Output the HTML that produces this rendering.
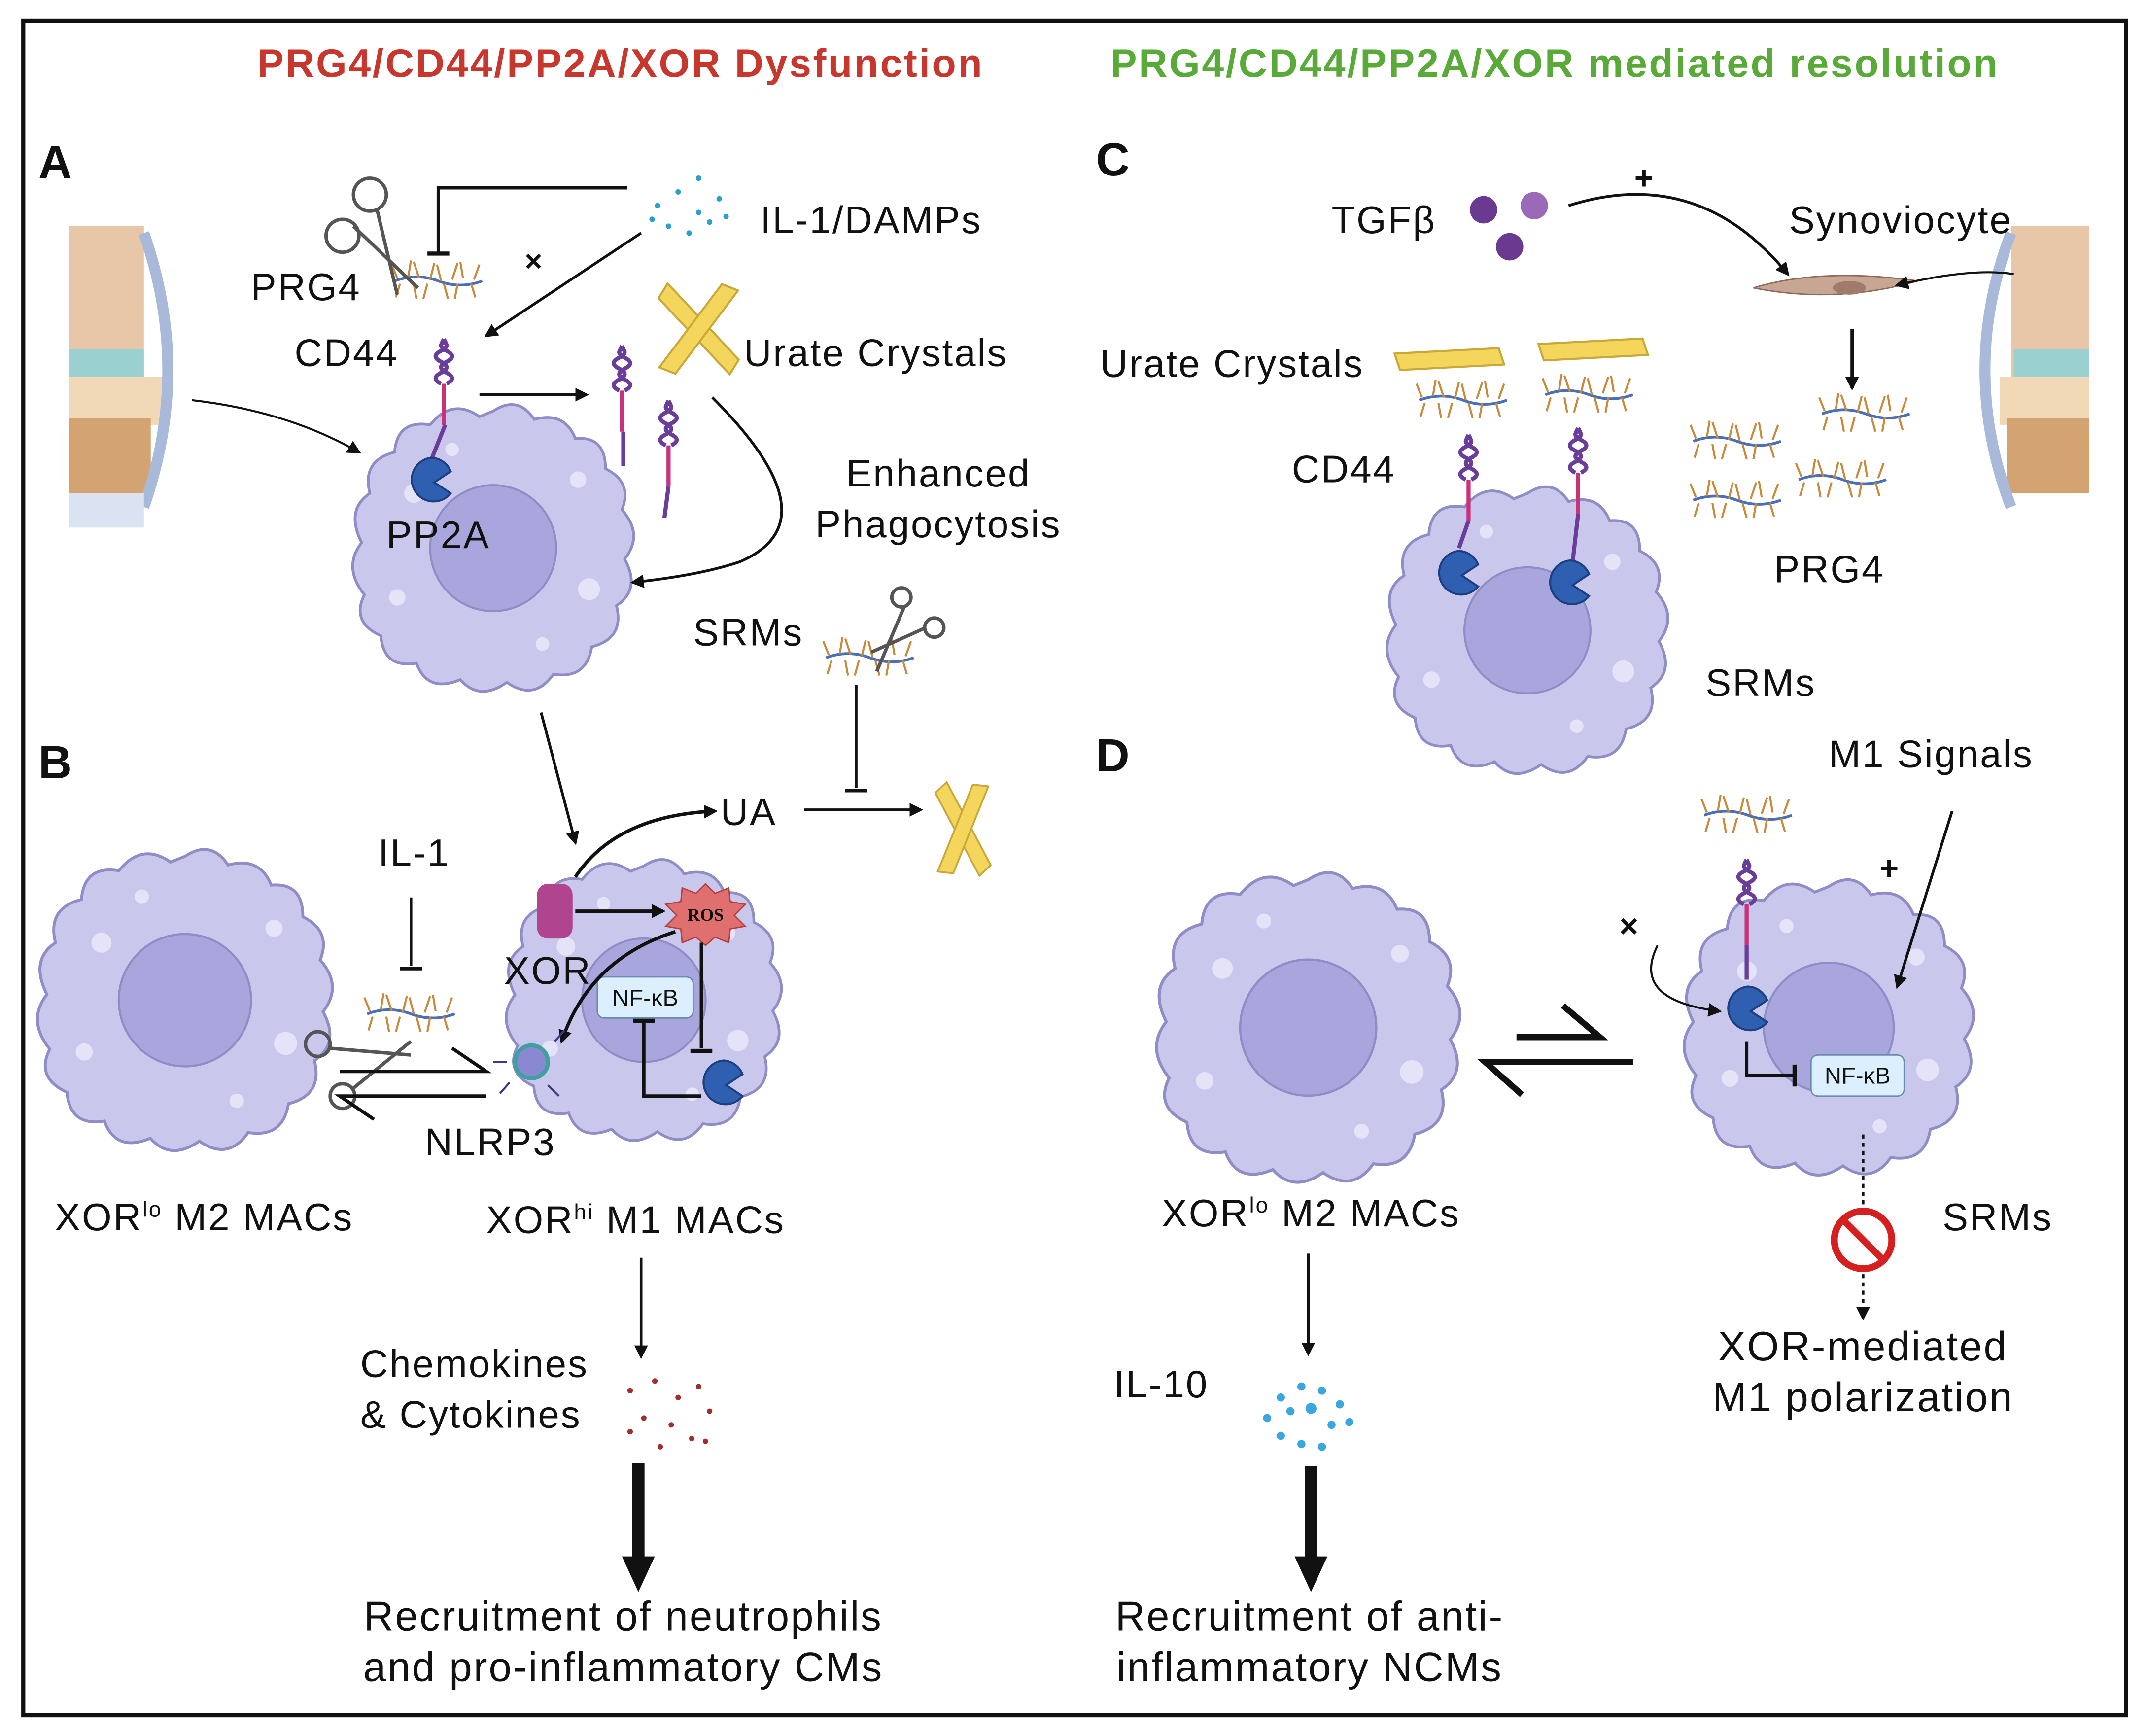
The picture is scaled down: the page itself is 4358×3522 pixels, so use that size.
<!DOCTYPE html>
<html><head><meta charset="utf-8"><style>
html,body{margin:0;padding:0;background:#fff;}
svg{display:block;}
text{font-family:"Liberation Sans",sans-serif;fill:#111;letter-spacing:1.1px;}
</style></head><body>
<svg width="4358" height="3522" viewBox="0 0 1568 1267" xmlns="http://www.w3.org/2000/svg">
<defs>
<marker id="ah" markerWidth="10" markerHeight="10" refX="8" refY="5" orient="auto" markerUnits="userSpaceOnUse"><path d="M0,0 L10,5 L0,10 z" fill="#111"/></marker>
<g id="cell">
<path d="M0,-100 Q18,-112 30,-94 Q52,-100 60,-80 Q82,-82 82,-58 Q102,-48 94,-28 Q110,-10 96,8 Q108,30 90,42 Q96,66 72,72 Q68,96 44,92 Q30,112 10,98 Q-10,112 -24,96 Q-48,106 -56,84 Q-80,88 -82,64 Q-104,54 -94,34 Q-110,14 -96,-4 Q-108,-28 -90,-40 Q-96,-64 -72,-70 Q-70,-94 -46,-90 Q-30,-110 -10,-96 Z" fill="#c9c7ec" stroke="#8f8cc6" stroke-width="2"/>
<circle cx="0" cy="0" r="46" fill="#a9a6dd" stroke="#8f8cc6" stroke-width="1.5"/>
<circle cx="-58" cy="-40" r="7" fill="#e4e3f7"/><circle cx="62" cy="-50" r="6" fill="#e4e3f7"/><circle cx="70" cy="30" r="8" fill="#e4e3f7"/><circle cx="-70" cy="36" r="6" fill="#e4e3f7"/><circle cx="36" cy="70" r="5" fill="#e4e3f7"/><circle cx="-30" cy="-72" r="5" fill="#e4e3f7"/>
</g>
<g id="prg">
<path d="M-32,0 Q-16,-6 0,0 T32,0" stroke="#4a6fb8" stroke-width="2" fill="none"/>
<path d="M-30,-2 l-4,-10 M-22,-3 l2,-12 M-14,-2 l-4,-12 M-6,-1 l3,-12 M2,0 l-3,-12 M10,-1 l4,-12 M18,-2 l-2,-12 M26,-1 l4,-11 M-28,2 l-3,10 M-18,2 l2,11 M-8,2 l-3,11 M4,2 l3,11 M14,2 l-2,11 M24,2 l3,10" stroke="#c88a3a" stroke-width="1.5"/>
</g>
<g id="cd44">
<path d="M0,0 q-8,-4 0,-8 q8,-4 0,-8 q-8,-4 0,-8 q8,-4 0,-8" stroke="#6a3d9a" stroke-width="3" fill="none"/>
<path d="M4,0 q8,-4 0,-8 q-8,-4 0,-8 q8,-4 0,-8 q-8,-4 0,-8" stroke="#6a3d9a" stroke-width="3" fill="none"/>
<line x1="2" y1="0" x2="2" y2="30" stroke="#c8327a" stroke-width="3"/>
</g>
<g id="pp2a"><path d="M0,-16 A16,16 0 1 0 14,10 L2,2 L14,-6 A16,16 0 0 0 0,-16 Z" fill="#2f5fb0" stroke="#1d3f80" stroke-width="1.5"/></g>
<g id="xtal"><polygon points="-40,-4 36,-8 40,4 -36,8" fill="#f4d65c" stroke="#c9a83a" stroke-width="1.5"/></g>
</defs>
<rect x="17" y="15" width="1535" height="1237" fill="#fff" stroke="#111" stroke-width="3"/>
<text x="453" y="56" font-size="29" font-weight="bold" text-anchor="middle" style="fill:#c8372d;letter-spacing:1.3px">PRG4/CD44/PP2A/XOR Dysfunction</text>
<text x="1135" y="56" font-size="29" font-weight="bold" text-anchor="middle" style="fill:#5aaa3a;letter-spacing:1.3px">PRG4/CD44/PP2A/XOR mediated resolution</text>
<g font-size="34" font-weight="bold"><text x="28" y="130">A</text><text x="28" y="568">B</text><text x="800" y="128">C</text><text x="800" y="563">D</text></g>

<g>
<rect x="50" y="165" width="55" height="115" fill="#e7c7a8"/><rect x="50" y="255" width="55" height="20" fill="#9ad0d0"/><rect x="50" y="275" width="70" height="35" fill="#f1d9b8"/><rect x="50" y="305" width="60" height="55" fill="#d4a372"/><path d="M105,170 Q140,270 105,370" stroke="#a9b9d9" stroke-width="8" fill="none"/><rect x="50" y="360" width="55" height="25" fill="#dbe3f2"/>
<rect x="1468" y="165" width="57" height="115" fill="#e7c7a8"/><rect x="1470" y="255" width="55" height="20" fill="#9ad0d0"/><rect x="1460" y="275" width="65" height="35" fill="#f1d9b8"/><rect x="1465" y="305" width="60" height="55" fill="#d4a372"/><path d="M1468,170 Q1430,270 1468,370" stroke="#a9b9d9" stroke-width="8" fill="none"/>
</g>

<!-- Panel A -->
<use href="#cell" transform="translate(360,400)"/>
<use href="#prg" transform="translate(320,205)"/>
<use href="#cd44" transform="translate(322,280)"/>
<line x1="325" y1="310" x2="315" y2="335" stroke="#6a3d9a" stroke-width="3"/>
<use href="#pp2a" transform="translate(315,350)"/>
<use href="#cd44" transform="translate(452,285)"/><line x1="455" y1="315" x2="455" y2="340" stroke="#6a3d9a" stroke-width="3"/>
<use href="#cd44" transform="translate(486,325)"/><line x1="488" y1="355" x2="485" y2="378" stroke="#6a3d9a" stroke-width="3"/>
<use href="#xtal" transform="translate(510,240) rotate(50)"/><use href="#xtal" transform="translate(510,240) rotate(-50)"/>
<text x="183" y="219" font-size="28">PRG4</text>
<text x="215" y="267" font-size="28">CD44</text>
<text x="282" y="400" font-size="28">PP2A</text>
<text x="555" y="170" font-size="28">IL-1/DAMPs</text>
<text x="543" y="267" font-size="28">Urate Crystals</text>
<text x="685" y="355" font-size="28" text-anchor="middle">Enhanced</text>
<text x="685" y="392" font-size="28" text-anchor="middle">Phagocytosis</text>
<text x="506" y="471" font-size="28">SRMs</text>
<g fill="#2aa0d0"><circle cx="480" cy="150" r="2"/><circle cx="495" cy="140" r="2"/><circle cx="510" cy="155" r="2"/><circle cx="525" cy="145" r="2"/><circle cx="488" cy="165" r="2"/><circle cx="503" cy="170" r="2"/><circle cx="518" cy="162" r="2"/><circle cx="530" cy="158" r="2"/><circle cx="476" cy="160" r="2"/><circle cx="510" cy="130" r="2"/></g>
<path d="M320,185 L320,137 L458,137" stroke="#111" stroke-width="2.5" fill="none"/><line x1="312" y1="185" x2="328" y2="185" stroke="#111" stroke-width="3"/>
<line x1="468" y1="170" x2="355" y2="245" stroke="#111" stroke-width="2" marker-end="url(#ah)"/>
<text x="383" y="198" font-size="22" font-weight="bold">×</text>
<g stroke="#555" stroke-width="2.5" fill="none"><circle cx="250" cy="172" r="12"/><circle cx="270" cy="142" r="12"/><line x1="258" y1="165" x2="305" y2="210"/><line x1="275" y1="152" x2="290" y2="215"/></g>
<line x1="350" y1="288" x2="428" y2="288" stroke="#111" stroke-width="2" marker-end="url(#ah)"/>
<path d="M520,290 Q610,380 540,410 Q510,420 462,425" stroke="#111" stroke-width="2" fill="none" marker-end="url(#ah)"/>
<path d="M140,292 Q210,300 262,330" stroke="#111" stroke-width="1.5" fill="none" marker-end="url(#ah)"/>
<use href="#prg" transform="translate(635,480)"/>
<g stroke="#555" stroke-width="2.5" fill="none"><circle cx="658" cy="436" r="7"/><circle cx="682" cy="458" r="7"/><line x1="660" y1="443" x2="640" y2="490"/><line x1="676" y1="458" x2="636" y2="476"/></g>
<line x1="625" y1="500" x2="625" y2="575" stroke="#111" stroke-width="2"/><line x1="617" y1="577" x2="633" y2="577" stroke="#111" stroke-width="2.5"/>
<line x1="395" y1="520" x2="420" y2="615" stroke="#111" stroke-width="2" marker-end="url(#ah)"/>

<!-- Panel B -->
<use href="#cell" transform="translate(135,730) scale(1.05)"/>
<use href="#cell" transform="translate(470,730) scale(0.98)"/>
<text x="276" y="632" font-size="28">IL-1</text>
<line x1="300" y1="655" x2="300" y2="705" stroke="#111" stroke-width="2"/><line x1="292" y1="707" x2="308" y2="707" stroke="#111" stroke-width="2.5"/>
<use href="#prg" transform="translate(300,740)"/>
<g stroke="#555" stroke-width="2.5" fill="none"><circle cx="232" cy="762" r="9"/><circle cx="250" cy="800" r="9"/><line x1="240" y1="765" x2="300" y2="770"/><line x1="257" y1="795" x2="300" y2="760"/></g>
<path d="M248,782 L355,782 L330,765" stroke="#111" stroke-width="2.5" fill="none"/>
<path d="M355,800 L248,800 L273,817" stroke="#111" stroke-width="2.5" fill="none"/>
<text x="310" y="843" font-size="28">NLRP3</text>
<text x="40" y="898" font-size="28">XOR<tspan font-size="16" dy="-10">lo</tspan><tspan dy="10"> M2 MACs</tspan></text>
<text x="355" y="900" font-size="28">XOR<tspan font-size="16" dy="-10">hi</tspan><tspan dy="10"> M1 MACs</tspan></text>
<rect x="392" y="645" width="26" height="40" rx="8" fill="#b0448e"/>
<text x="368" y="718" font-size="28">XOR</text>
<polygon points="515,645 522,652 532,648 533,658 544,660 536,668 544,676 533,678 532,688 522,684 515,690 508,684 498,688 497,678 486,676 494,668 486,660 497,658 498,648 508,652" fill="#e07070" stroke="#b04040"/>
<text x="515" y="672" font-size="13" font-weight="bold" text-anchor="middle" style="font-family:'Liberation Serif',serif;letter-spacing:0">ROS</text>
<line x1="420" y1="665" x2="484" y2="665" stroke="#111" stroke-width="2.5" marker-end="url(#ah)"/>
<path d="M420,640 Q450,595 522,592" stroke="#111" stroke-width="2.5" fill="none" marker-end="url(#ah)"/>
<text x="526" y="602" font-size="28">UA</text>
<line x1="587" y1="591" x2="672" y2="591" stroke="#111" stroke-width="2" marker-end="url(#ah)"/>
<use href="#xtal" transform="translate(703,605) rotate(65) scale(0.9)"/><use href="#xtal" transform="translate(703,605) rotate(115) scale(0.9)"/>
<rect x="436" y="713" width="70" height="30" rx="5" fill="#dcefff" stroke="#6a8ab0"/>
<text x="471" y="734" font-size="17" text-anchor="middle" style="letter-spacing:0">NF-κB</text>
<path d="M493,680 Q430,700 410,760" stroke="#111" stroke-width="2.5" fill="none" marker-end="url(#ah)"/>
<line x1="512" y1="688" x2="512" y2="765" stroke="#111" stroke-width="2.5"/><line x1="504" y1="767" x2="520" y2="767" stroke="#111" stroke-width="3"/>
<path d="M512,800 L470,800 L470,745" stroke="#111" stroke-width="2.5" fill="none"/><line x1="462" y1="745" x2="478" y2="745" stroke="#111" stroke-width="3"/>
<use href="#pp2a" transform="translate(528,790)"/>
<g stroke="#3a3a8a" stroke-width="1.5"><circle cx="388" cy="775" r="12" fill="#8a88d0" stroke="#40a0a0" stroke-width="3"/><line x1="370" y1="775" x2="360" y2="775"/><line x1="405" y1="760" x2="412" y2="752"/><line x1="372" y1="790" x2="365" y2="798"/><line x1="400" y1="792" x2="408" y2="800"/></g>
<line x1="468" y1="918" x2="468" y2="990" stroke="#111" stroke-width="2" marker-end="url(#ah)"/>
<text x="263" y="1005" font-size="28">Chemokines</text>
<text x="263" y="1042" font-size="28">&amp; Cytokines</text>
<g fill="#a03030"><circle cx="460" cy="1015" r="2"/><circle cx="478" cy="1008" r="2"/><circle cx="495" cy="1020" r="2"/><circle cx="510" cy="1012" r="2"/><circle cx="470" cy="1035" r="2"/><circle cx="490" cy="1040" r="2"/><circle cx="505" cy="1050" r="2"/><circle cx="518" cy="1030" r="2"/><circle cx="460" cy="1045" r="2"/><circle cx="482" cy="1056" r="2"/><circle cx="515" cy="1052" r="2"/></g>
<line x1="466" y1="1068" x2="466" y2="1138" stroke="#111" stroke-width="9"/><polygon points="454,1136 478,1136 466,1162" fill="#111"/>
<text x="455" y="1190" font-size="30" text-anchor="middle">Recruitment of neutrophils</text>
<text x="455" y="1227" font-size="30" text-anchor="middle">and pro-inflammatory CMs</text>

<!-- Panel C -->
<text x="972" y="170" font-size="28">TGFβ</text>
<circle cx="1083" cy="153" r="10" fill="#6a3a90"/><circle cx="1120" cy="150" r="10" fill="#9a6ab8"/><circle cx="1102" cy="180" r="10" fill="#6a3a90"/>
<text x="1193" y="138" font-size="24" font-weight="bold">+</text>
<path d="M1145,150 Q1240,120 1305,200" stroke="#111" stroke-width="2" fill="none" marker-end="url(#ah)"/>
<text x="1306" y="170" font-size="28">Synoviocyte</text>
<path d="M1280,210 Q1330,195 1400,205 Q1340,222 1280,210 Z" fill="#c9a593" stroke="#8a6a5a"/><ellipse cx="1350" cy="210" rx="12" ry="5" fill="#a07a6a"/>
<path d="M1470,200 Q1440,195 1385,208" stroke="#111" stroke-width="1.5" fill="none" marker-end="url(#ah)"/>
<line x1="1352" y1="240" x2="1352" y2="283" stroke="#111" stroke-width="2.5" marker-end="url(#ah)"/>
<use href="#prg" transform="translate(1268,322)"/><use href="#prg" transform="translate(1362,302)"/><use href="#prg" transform="translate(1268,365)"/><use href="#prg" transform="translate(1345,350)"/>
<text x="1295" y="425" font-size="28">PRG4</text>
<text x="803" y="275" font-size="28">Urate Crystals</text>
<text x="943" y="352" font-size="28">CD44</text>
<use href="#cell" transform="translate(1115,460)"/>
<use href="#xtal" transform="translate(1058,262) scale(1)"/><use href="#xtal" transform="translate(1163,255)"/>
<use href="#prg" transform="translate(1068,292)"/><use href="#prg" transform="translate(1160,288)"/>
<use href="#cd44" transform="translate(1070,350)"/><line x1="1072" y1="380" x2="1065" y2="400" stroke="#6a3d9a" stroke-width="3"/>
<use href="#cd44" transform="translate(1150,345)"/><line x1="1152" y1="375" x2="1148" y2="410" stroke="#6a3d9a" stroke-width="3"/>
<use href="#pp2a" transform="translate(1065,418)"/><use href="#pp2a" transform="translate(1146,425)"/>
<text x="1245" y="508" font-size="28">SRMs</text>

<!-- Panel D -->
<text x="1335" y="560" font-size="28">M1 Signals</text>
<use href="#cell" transform="translate(955,750) scale(1.08)"/>
<use href="#cell" transform="translate(1335,750) scale(1.03)"/>
<use href="#prg" transform="translate(1276,595)"/>
<use href="#cd44" transform="translate(1273,660)"/><line x1="1275" y1="690" x2="1275" y2="715" stroke="#6a3d9a" stroke-width="3"/>
<use href="#pp2a" transform="translate(1276,736)"/>
<line x1="1425" y1="592" x2="1385" y2="720" stroke="#111" stroke-width="2" marker-end="url(#ah)"/>
<text x="1372" y="642" font-size="24" font-weight="bold">+</text>
<text x="1182" y="684" font-size="24" font-weight="bold">×</text>
<path d="M1210,690 Q1190,730 1255,738" stroke="#111" stroke-width="1.5" fill="none" marker-end="url(#ah)"/>
<path d="M1275,760 L1275,785 L1310,785" stroke="#111" stroke-width="2.5" fill="none"/><line x1="1310" y1="777" x2="1310" y2="793" stroke="#111" stroke-width="3"/>
<rect x="1322" y="770" width="68" height="30" rx="5" fill="#dcefff" stroke="#6a8ab0"/>
<text x="1356" y="791" font-size="17" text-anchor="middle" style="letter-spacing:0">NF-κB</text>
<path d="M1107,757 L1168,757 L1141,734" stroke="#111" stroke-width="4.5" fill="none" stroke-linejoin="miter"/>
<path d="M1192,775 L1084,775 L1111,799" stroke="#111" stroke-width="4.5" fill="none" stroke-linejoin="miter"/>
<line x1="1360" y1="828" x2="1360" y2="962" stroke="#111" stroke-width="2" stroke-dasharray="3,3" marker-end="url(#ah)"/>
<circle cx="1360" cy="905" r="21" fill="#fff" stroke="#d62020" stroke-width="5"/><line x1="1345" y1="890" x2="1375" y2="920" stroke="#d62020" stroke-width="5"/>
<text x="1418" y="898" font-size="28">SRMs</text>
<text x="1360" y="993" font-size="30" text-anchor="middle">XOR-mediated</text>
<text x="1360" y="1030" font-size="30" text-anchor="middle">M1 polarization</text>
<text x="848" y="895" font-size="28">XOR<tspan font-size="16" dy="-10">lo</tspan><tspan dy="10"> M2 MACs</tspan></text>
<line x1="955" y1="915" x2="955" y2="988" stroke="#111" stroke-width="2" marker-end="url(#ah)"/>
<text x="813" y="1020" font-size="28">IL-10</text>
<g fill="#3aa8dc"><circle cx="935" cy="1020" r="3"/><circle cx="950" cy="1012" r="3"/><circle cx="965" cy="1015" r="3"/><circle cx="978" cy="1025" r="3"/><circle cx="925" cy="1035" r="3"/><circle cx="942" cy="1030" r="3"/><circle cx="957" cy="1028" r="4"/><circle cx="972" cy="1040" r="3"/><circle cx="985" cy="1038" r="3"/><circle cx="935" cy="1048" r="3"/><circle cx="950" cy="1054" r="3"/><circle cx="965" cy="1056" r="3"/></g>
<line x1="957" y1="1070" x2="957" y2="1138" stroke="#111" stroke-width="9"/><polygon points="945,1136 969,1136 957,1162" fill="#111"/>
<text x="956" y="1190" font-size="30" text-anchor="middle">Recruitment of anti-</text>
<text x="956" y="1227" font-size="30" text-anchor="middle">inflammatory NCMs</text>
</svg>
</body></html>
